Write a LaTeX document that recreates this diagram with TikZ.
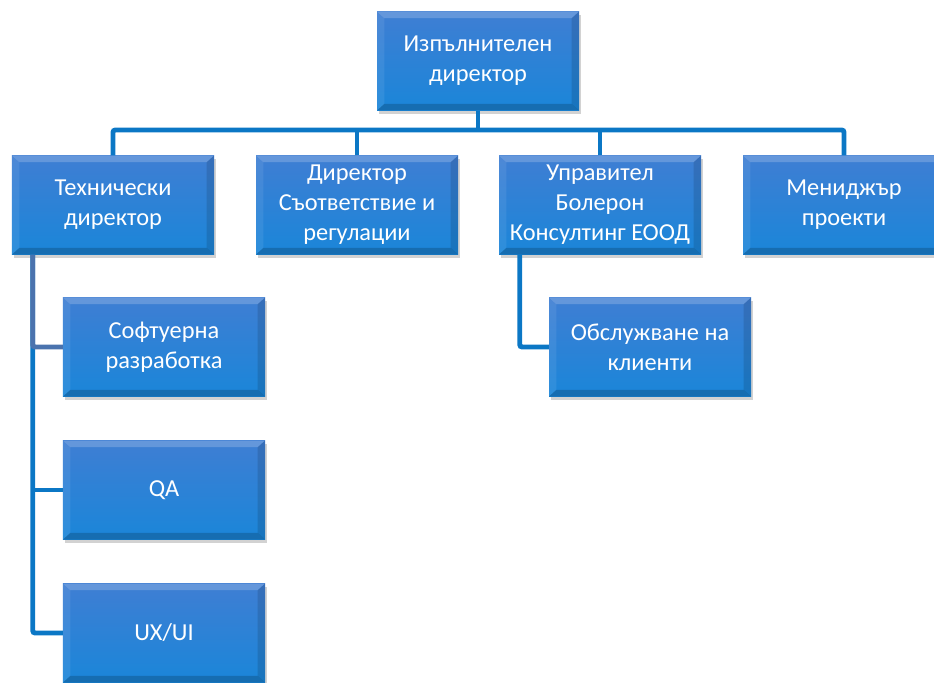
\documentclass[tikz,border=0pt]{standalone}
\usepackage{fontspec}
\setmainfont{Carlito}
\usetikzlibrary{calc,positioning,shadows}

\definecolor{boxtop}{HTML}{3F7ED3}
\definecolor{boxbot}{HTML}{1A86D9}
\definecolor{linkblue}{HTML}{0B77C5}
\definecolor{linksteel}{HTML}{4A73AE}

\tikzset{
  orgbox/.style={rectangle,minimum width=6.06cm,minimum height=2.97cm,inner sep=2pt,
    align=center,text=white,font=\fontsize{20.8}{25.5}\selectfont,
    top color=boxtop,bottom color=boxbot,
    drop shadow={shadow xshift=1.5pt,shadow yshift=-3pt,opacity=.25,fill=black!70},
    path picture={
      % bevel: light top/left, dark right/bottom
      \fill[white,opacity=.2] (path picture bounding box.north west) -- (path picture bounding box.north east)
        -- ($(path picture bounding box.north east)+(-0.22cm,-0.2cm)$) -- ($(path picture bounding box.north west)+(0.22cm,-0.2cm)$) -- cycle;
      \fill[white,opacity=.08] (path picture bounding box.north west) -- ($(path picture bounding box.north west)+(0.22cm,-0.2cm)$)
        -- ($(path picture bounding box.south west)+(0.22cm,0.2cm)$) -- (path picture bounding box.south west) -- cycle;
      \fill[black,opacity=.12] (path picture bounding box.north east) -- ($(path picture bounding box.north east)+(-0.22cm,-0.2cm)$)
        -- ($(path picture bounding box.south east)+(-0.22cm,0.2cm)$) -- (path picture bounding box.south east) -- cycle;
      \fill[black,opacity=.18] (path picture bounding box.south west) -- ($(path picture bounding box.south west)+(0.22cm,0.2cm)$)
        -- ($(path picture bounding box.south east)+(-0.22cm,0.2cm)$) -- (path picture bounding box.south east) -- cycle;
    }},
  link/.style={line width=4.2pt,linkblue,rounded corners=2pt}
}

\begin{document}
\begin{tikzpicture}[x=0.03cm,y=-0.03cm]
  \useasboundingbox (0,0) rectangle (934,683);

  \coordinate (bus) at (0,130);

  % top level
  \node[orgbox] (ceo) at (478,61) {Изпълнителен\\директор};

  % second row
  \node[orgbox] (cto)  at (113,205) {Технически\\директор};
  \node[orgbox] (comp) at (357,205) {Директор\\Съответствие и\\регулации};
  \node[orgbox] (mgr)  at (600,205) {Управител\\Болерон\\Консултинг ЕООД};
  \node[orgbox] (pm)   at (844,205) {Мениджър\\проекти};

  % teams
  \node[orgbox] (dev) at (164,347) {Софтуерна\\разработка};
  \node[orgbox] (qa)  at (164,490) {QA};
  \node[orgbox] (ux)  at (164,633) {UX/UI};
  \node[orgbox] (cs)  at (650,347) {Обслужване на\\клиенти};

  \draw[link] (ceo.south) -- (ceo.south |- bus);
  \draw[link] (cto.north) |- (pm.north |- bus) -- (pm.north);
  \foreach \n in {comp,mgr}{\draw[link] (\n.north) -- (\n.north |- bus);}

  \coordinate (ctotrunk) at ([xshift=0.63cm]cto.south west);
  \draw[link] (ctotrunk) |- (ux.west);
  \draw[link] (ctotrunk |- qa.west) -- (qa.west);
  \draw[link,linksteel] (ctotrunk) |- (dev.west);

  \coordinate (mgrtrunk) at ([xshift=0.63cm]mgr.south west);
  \draw[link] (mgrtrunk) |- (cs.west);
\end{tikzpicture}
\end{document}
